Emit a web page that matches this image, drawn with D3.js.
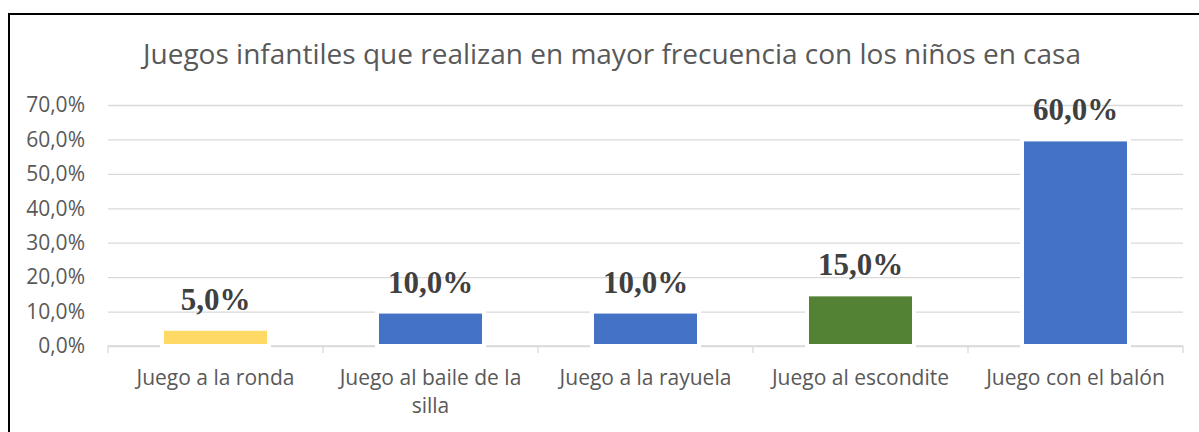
<!DOCTYPE html>
<html>
<head>
<meta charset="utf-8">
<script src="https://cdn.jsdelivr.net/npm/d3@7"></script>
<style>
  body { margin: 0; background: #fff; }
  svg { display: block; }
</style>
</head>
<body>
<svg width="1199" height="432"></svg>
<script>
var categories = ["Juego a la ronda", "Juego al baile de la silla", "Juego a la rayuela",
    "Juego al escondite", "Juego con el balón"];
var values = [0.05, 0.10, 0.10, 0.15, 0.60];
var barColors = ["#FFD966", "#4472C4", "#4472C4", "#548235", "#4472C4"];
var yTicks = [0, 0.1, 0.2, 0.3, 0.4, 0.5, 0.6, 0.7];
var title = "Juegos infantiles que realizan en mayor frecuencia con los niños en casa";

var svg = d3.select("svg"),
    width = +svg.attr("width"),
    height = +svg.attr("height");

var margin = {left: 108, right: 16, top: 105, bottom: 86};
var fmt = function (v) { return d3.format(".1f")(v * 100).replace(".", ",") + "%"; };

var x = d3.scaleBand()
    .domain(categories)
    .range([margin.left, width - margin.right])
    .paddingInner(0)
    .paddingOuter(0);

var y = d3.scaleLinear()
    .domain([0, 0.7])
    .range([height - margin.bottom, margin.top]);

// outer chart border (cut off on right and bottom)
svg.append("rect")
    .attr("x", 9).attr("y", 14)
    .attr("width", 1300).attr("height", 600)
    .attr("fill", "none")
    .attr("stroke", "#000")
    .attr("stroke-width", 2);

svg.append("text")
    .attr("x", 612)
    .attr("y", 64)
    .attr("text-anchor", "middle")
    .attr("font-family", "Open Sans")
    .attr("font-size", 28)
    .attr("fill", "#595959")
    .text(title);

// gridlines + y labels
var yAxis = svg.append("g")
    .attr("transform", "translate(" + margin.left + ",0)")
    .call(d3.axisLeft(y).tickValues(yTicks).tickFormat(fmt)
        .tickSize(-(width - margin.left - margin.right)).tickPadding(23));
yAxis.select(".domain").remove();
yAxis.selectAll(".tick line")
    .attr("stroke", "#d9d9d9")
    .attr("stroke-width", 1.3);
yAxis.selectAll(".tick text")
    .attr("font-family", "Open Sans")
    .attr("font-size", 21)
    .attr("fill", "#595959");

// x axis
var baseY = y(0);
var xAxis = svg.append("g")
    .attr("transform", "translate(0," + baseY + ")");
xAxis.append("line")
    .attr("x1", margin.left).attr("x2", width - margin.right)
    .attr("stroke", "#d9d9d9").attr("stroke-width", 1.3);
var bounds = categories.map(function (c) { return x(c); }).concat([x.range()[1]]);
xAxis.selectAll("line.tk")
    .data(bounds)
    .enter().append("line")
    .attr("class", "tk")
    .attr("x1", d => d).attr("x2", d => d)
    .attr("y1", 0).attr("y2", 7)
    .attr("stroke", "#d9d9d9").attr("stroke-width", 1.3);

// bars
var barW = 107;
svg.append("g")
    .selectAll("rect")
    .data(values)
    .enter().append("rect")
    .attr("x", (d, i) => x(categories[i]) + x.bandwidth() / 2 - barW / 2)
    .attr("y", d => y(d))
    .attr("width", barW)
    .attr("height", d => baseY - y(d))
    .attr("fill", (d, i) => barColors[i])
    .attr("stroke", "#fff")
    .attr("stroke-width", 4);

// value labels
svg.append("g")
    .selectAll("text")
    .data(values)
    .enter().append("text")
    .attr("x", (d, i) => x(categories[i]) + x.bandwidth() / 2)
    .attr("y", d => y(d) - 19)
    .attr("text-anchor", "middle")
    .attr("font-family", "Liberation Serif")
    .attr("font-weight", "bold")
    .attr("font-size", 31)
    .attr("fill", "#404040")
    .text(fmt);

// category labels with wrapping
var catLabels = svg.append("g")
    .selectAll("text")
    .data(categories)
    .enter().append("text")
    .attr("text-anchor", "middle")
    .attr("font-family", "Open Sans")
    .attr("font-size", 21)
    .attr("fill", "#595959")
    .attr("x", d => x(d) + x.bandwidth() / 2)
    .attr("y", baseY + 39);

catLabels.each(function (d) {
    var el = d3.select(this),
        words = d.split(" "),
        line = [],
        cx = +el.attr("x"),
        tspan = el.append("tspan").attr("x", cx).attr("dy", 0);
    words.forEach(function (w) {
        line.push(w);
        tspan.text(line.join(" "));
        if (tspan.node().getComputedTextLength() > 205 && line.length > 1) {
            line.pop();
            tspan.text(line.join(" "));
            line = [w];
            tspan = el.append("tspan").attr("x", cx).attr("dy", 28).text(w);
        }
    });
});
</script>
</body>
</html>
